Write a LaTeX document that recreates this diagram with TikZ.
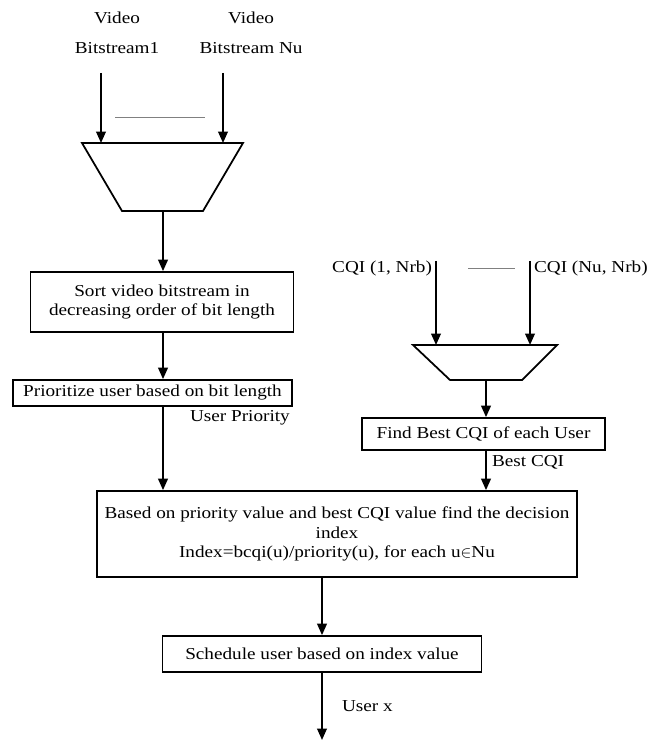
\documentclass[tikz,border=0pt]{standalone}
\usepackage{fontspec}
\setmainfont[FakeStretch=1.15]{Liberation Serif}
\usetikzlibrary{arrows.meta}
\begin{document}
\begin{tikzpicture}[x=0.02cm,y=-0.02cm,
    font=\fontsize{9.5}{11}\selectfont,
    box/.style={draw,line width=1pt,align=center,inner sep=2pt},
    flow/.style={line width=1pt,-{Triangle[width=5.5pt,length=6.5pt]}},
    lbl/.style={inner sep=1pt}]
\useasboundingbox (0,0) rectangle (655,742);
% Video inputs and mux
\node[lbl,align=center] (vid1) at (117,33) {Video\\[6pt]Bitstream1};
\node[lbl,align=center] (vidn) at (251,33) {Video\\[6pt]Bitstream Nu};
\coordinate (in1) at (101,73);
\coordinate (inn) at (223,73);
\draw[gray] (115,117) -- (205,117);
\draw[line width=1pt] (82,143) coordinate (muxa) -- (243,143) -- (203,211) -- (122,211) -- cycle;
\coordinate (muxout) at (163,211);
\draw[flow] (in1) -- (in1 |- muxa);
\draw[flow] (inn) -- (inn |- muxa);
% Sort and prioritize
\node[box,minimum width=5.26cm,minimum height=1.2cm] (sort) at (162,302)
    {Sort video bitstream in\\decreasing order of bit length};
\draw[flow] (muxout) -- (muxout |- sort.north);
\node[box,minimum width=5.58cm,minimum height=0.52cm] (prio) at (152.5,393)
    {Prioritize user based on bit length};
\draw[flow] (sort.south -| muxout) -- (muxout |- prio.north);
\node[lbl,anchor=west] (uprio) at (188,418) {User Priority};
% CQI inputs and mux
\node[lbl,anchor=east] (cqi1) at (434,268) {CQI (1, Nrb)};
\node[lbl,anchor=west] (cqin) at (532,268) {CQI (Nu, Nrb)};
\coordinate (c1) at (436,261);
\coordinate (cn) at (530,261);
\draw[gray] (468,268) -- (515,268);
\draw[line width=1pt] (413,345) coordinate (muxb) -- (557,345) -- (522,380) -- (450,380) -- cycle;
\coordinate (muxbout) at (486,380);
\draw[flow] (c1) -- (c1 |- muxb);
\draw[flow] (cn) -- (cn |- muxb);
\node[box,minimum width=4.86cm,minimum height=0.64cm] (best) at (483.5,434)
    {Find Best CQI of each User};
\draw[flow] (muxbout) -- (muxbout |- best.north);
\node[lbl,anchor=west] (bcqi) at (490,462) {Best CQI};
% Decision index
\node[box,minimum width=9.6cm,minimum height=1.72cm] (dec) at (337,534)
    {Based on priority value and best CQI value find the decision\\index\\Index=bcqi(u)/priority(u), for each u$\in$Nu};
\draw[flow] (prio.south -| muxout) -- (muxout |- dec.north);
\draw[flow] (muxbout |- best.south) -- (muxbout |- dec.north);
% Schedule
\node[box,minimum width=6.38cm,minimum height=0.72cm] (sched) at (322,654)
    {Schedule user based on index value};
\coordinate (out) at (322,740);
\draw[flow] (dec.south -| sched) -- (sched.north);
\draw[flow] (sched.south) -- (out);
\node[lbl,anchor=west] (ux) at (340,706) {User x};
\end{tikzpicture}
\end{document}
